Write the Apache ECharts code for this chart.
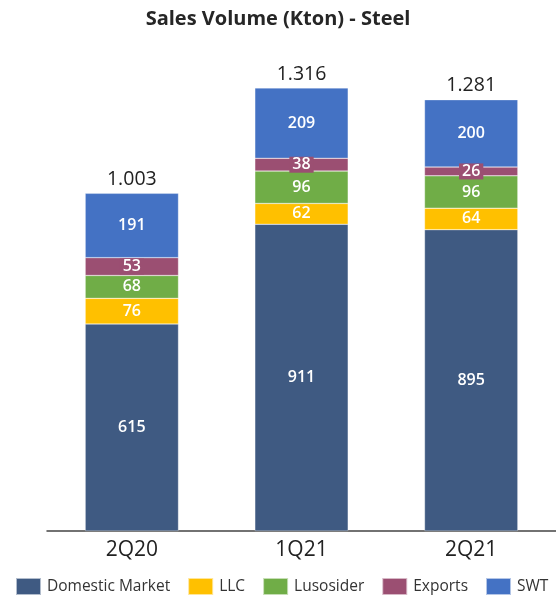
<!DOCTYPE html>
<html><head><meta charset="utf-8">
<script src="https://cdn.jsdelivr.net/npm/echarts@6/dist/echarts.min.js"></script>
<style>html,body{margin:0;padding:0;background:#fff}#c{width:556px;height:599px}</style>
</head><body><div id="c"></div>
<script>
const categories = ['2Q20', '1Q21', '2Q21'];
const domestic = [615, 911, 895];
const llc = [76, 62, 64];
const lusosider = [68, 96, 96];
const exportsV = [53, 38, 26];
const swt = [191, 209, 200];
const seriesNames = ['Domestic Market', 'LLC', 'Lusosider', 'Exports', 'SWT'];
const colors = ['#3F5A82', '#FFC000', '#70AD47', '#9B4F72', '#4472C4'];

const all = [domestic, llc, lusosider, exportsV, swt];
const totals = categories.map((_, i) => all.reduce((s, a) => s + a[i], 0));
const fmt = v => String(v).replace(/\B(?=(\d{3})+(?!\d))/g, '.');

const font = "'Open Sans', sans-serif";
const series = all.map((d, k) => ({
  name: seriesNames[k], type: 'bar', stack: 'a', data: d, barWidth: '55%',
  itemStyle: { color: colors[k], borderColor: 'rgba(255,255,255,0.6)', borderWidth: 0.5 },
  label: {
    show: true, position: 'inside', color: '#fff', fontSize: 16, fontFamily: font, fontWeight: 600,
    backgroundColor: k === 3 ? colors[3] : 'transparent', padding: k === 3 ? [0, 3] : 0
  }
}));
series.push({
  name: 'Total', type: 'bar', stack: 'a', data: totals.map(() => 0), barWidth: '55%',
  label: { show: true, position: 'top', distance: 4, color: '#222', fontSize: 19.5, fontFamily: font,
    formatter: p => fmt(totals[p.dataIndex]) },
  itemStyle: { color: 'transparent' }, silent: true
});

const chart = echarts.init(document.getElementById('c'));
chart.setOption({
  animation: false,
  title: { text: 'Sales Volume (Kton) - Steel', left: 'center', top: 4,
    textStyle: { fontFamily: font, fontWeight: 'bold', fontSize: 20, color: '#262626' } },
  legend: { data: seriesNames, bottom: 3, left: 15, padding: 0, itemWidth: 25, itemHeight: 17, itemGap: 17,
    icon: 'rect', textStyle: { fontFamily: font, fontSize: 15.5, color: '#333', padding: [0, 0, 0, 1] } },
  grid: { left: 47, right: -5, top: 26, bottom: 68 },
  xAxis: { type: 'category', data: categories,
    axisLine: { lineStyle: { color: '#444', width: 1.5 } }, axisTick: { show: false },
    axisLabel: { fontSize: 21, color: '#222', fontFamily: font, margin: 9 } },
  yAxis: { type: 'value', min: 0, max: 1500, show: false, splitLine: { show: false } },
  series
});
</script></body></html>
